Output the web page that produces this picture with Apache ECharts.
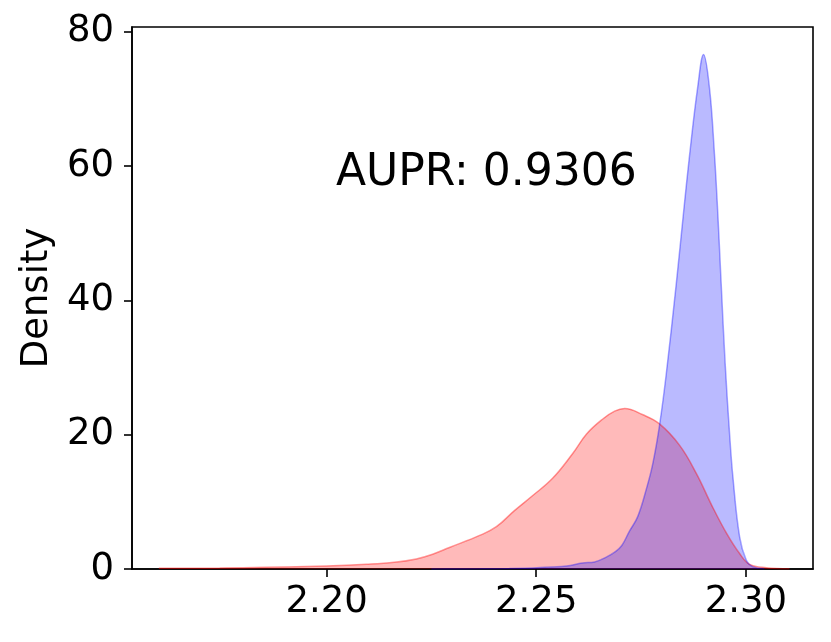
<!DOCTYPE html>
<html>
<head>
<meta charset="utf-8">
<script src="https://cdn.jsdelivr.net/npm/echarts@6/dist/echarts.min.js"></script>
<style>
  html, body { margin: 0; padding: 0; background: #fff; }
  #chart { width: 831px; height: 642px; }
</style>
</head>
<body>
<div id="chart"></div>
<script>
// red density curve (x, density)
var redX = [2.1600, 2.1745, 2.1856, 2.1999, 2.2095, 2.2162, 2.2214, 2.2253, 2.2293, 2.2365,
  2.2405, 2.2448, 2.2491, 2.2539, 2.2587, 2.2620, 2.2658, 2.2687, 2.2711, 2.2753,
  2.2794, 2.2842, 2.2882, 2.2920, 2.2954, 2.2985, 2.3009, 2.3049, 2.3104]
var redY = [0.1, 0.15, 0.25, 0.45, 0.7, 1.0, 1.5, 2.2, 3.2, 5.0,
  6.3, 8.7, 10.9, 13.5, 17.2, 20.1, 22.3, 23.5, 23.9, 23.0,
  21.6, 18.4, 14.2, 9.3, 5.3, 2.3, 0.7, 0.2, 0.03]
// blue density curve
var blueX = [2.2250, 2.2365, 2.2436, 2.2501, 2.2572, 2.2610, 2.2639, 2.2668, 2.2687, 2.2704,
  2.2722, 2.2742, 2.2763, 2.2778, 2.2794, 2.2810, 2.2834, 2.2851, 2.2866, 2.2885,
  2.2899, 2.2913, 2.2925, 2.2933, 2.2941, 2.2951, 2.2961, 2.2969, 2.2985, 2.3001,
  2.3016, 2.3044]
var blueY = [0, 0.02, 0.08, 0.2, 0.45, 0.9, 1.05, 1.8, 2.5, 3.5,
  5.6, 7.8, 12.0, 15.7, 21.4, 29.0, 42.5, 52.9, 61.8, 71.7,
  76.6, 71.7, 61.8, 52.9, 42.5, 30.1, 20.2, 13.7, 4.8, 1.3,
  0.35, 0.05]
var xTicks = [2.20, 2.25, 2.30]
var yTicks = [0, 20, 40, 60, 80]
var annotation = 'AUPR: 0.9306'

function pairs(xs, ys) {
  return xs.map(function (x, i) { return [x, ys[i]] })
}

var font = 'DejaVu Sans'
var chart = echarts.init(document.getElementById('chart'), null, { renderer: 'canvas' })

chart.setOption({
  animation: false,
  backgroundColor: '#ffffff',
  grid: {
    left: 132,
    right: 18,
    top: 27,
    bottom: 73,
    show: true,
    borderColor: '#000',
    borderWidth: 1.6,
    backgroundColor: 'transparent'
  },
  xAxis: {
    type: 'value',
    min: 2.1536,
    max: 2.316,
    axisLine: { onZero: false, lineStyle: { color: '#000', width: 1.6 } },
    axisTick: { show: true, length: 8, lineStyle: { color: '#000', width: 1.6 }, customValues: xTicks },
    axisLabel: {
      customValues: xTicks,
      margin: 15,
      color: '#000',
      fontFamily: font,
      fontSize: 37,
      formatter: function (v) { return v.toFixed(2) }
    },
    splitLine: { show: false }
  },
  yAxis: {
    type: 'value',
    min: 0,
    max: 80.7,
    name: 'Density',
    nameLocation: 'middle',
    nameRotate: 90,
    nameGap: 72,
    nameTextStyle: { color: '#000', fontFamily: font, fontSize: 37 },
    axisLine: { show: true, lineStyle: { color: '#000', width: 1.6 } },
    axisTick: { show: true, length: 8, lineStyle: { color: '#000', width: 1.6 }, customValues: yTicks },
    axisLabel: {
      customValues: yTicks,
      margin: 18,
      color: '#000',
      fontFamily: font,
      fontSize: 37
    },
    splitLine: { show: false }
  },
  graphic: [{
    type: 'text',
    left: 336,
    top: 152,
    style: {
      text: annotation,
      font: '44px "DejaVu Sans"',
      fill: '#000'
    }
  }],
  series: [
    {
      type: 'line',
      data: pairs(redX, redY),
      smooth: 0.4,
      showSymbol: false,
      lineStyle: { color: 'rgba(255,0,0,0.4)', width: 1.5 },
      areaStyle: { color: 'rgba(255,0,0,0.27)', opacity: 1 }
    },
    {
      type: 'line',
      data: pairs(blueX, blueY),
      smooth: 0.4,
      showSymbol: false,
      lineStyle: { color: 'rgba(0,0,255,0.35)', width: 1.5 },
      areaStyle: { color: 'rgba(0,0,255,0.27)', opacity: 1 }
    }
  ]
})
</script>
</body>
</html>
